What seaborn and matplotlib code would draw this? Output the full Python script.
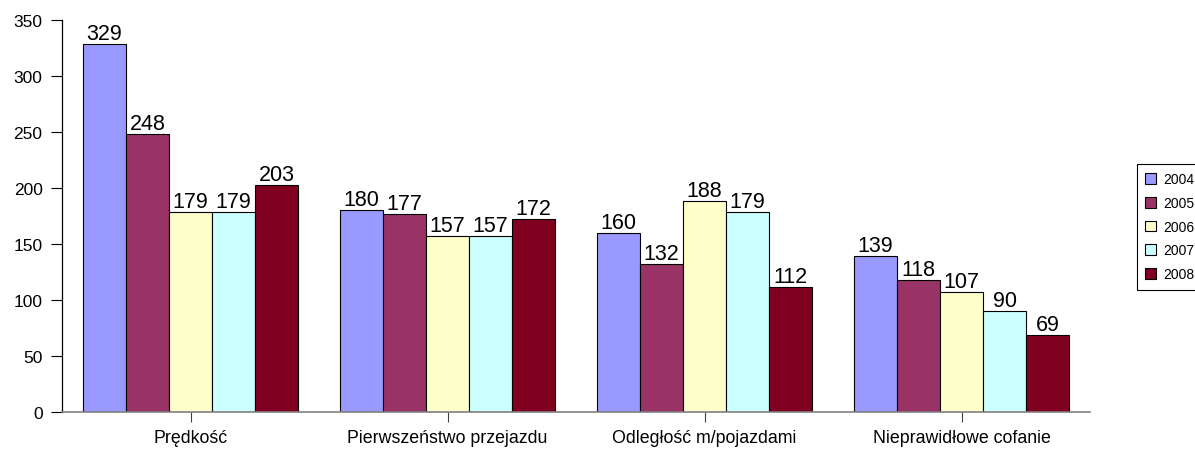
import numpy as np
import pandas as pd
import seaborn as sns
from matplotlib import pyplot as plt

# data
categories = ['Prędkość', 'Pierwszeństwo przejazdu', 'Odległość m/pojazdami', 'Nieprawidłowe cofanie']
years = ['2004', '2005', '2006', '2007', '2008']
v2004 = [329, 180, 160, 139]
v2005 = [248, 177, 132, 118]
v2006 = [179, 157, 188, 107]
v2007 = [179, 157, 179, 90]
v2008 = [203, 172, 112, 69]
colors = ['#9999FF', '#993366', '#FFFFCC', '#CCFFFF', '#800020']

series = [v2004, v2005, v2006, v2007, v2008]
rows = []
for year, vals in zip(years, series):
    for cat, v in zip(categories, vals):
        rows.append({'Kategoria': cat, 'Rok': year, 'Liczba': v})
df = pd.DataFrame(rows)

sns.set_style('white')
plt.rcParams['font.family'] = ['Liberation Sans', 'DejaVu Sans']
plt.rcParams['text.color'] = 'black'
plt.rcParams['xtick.color'] = 'black'
plt.rcParams['ytick.color'] = 'black'

fig = plt.figure(figsize=(11.95, 4.52), dpi=100)
ax = fig.add_axes([0.0519, 0.0863, 0.8603, 0.8672])

sns.barplot(data=df, x='Kategoria', y='Liczba', hue='Rok', order=categories,
            hue_order=years, palette=colors, width=0.837, gap=0,
            edgecolor='black', linewidth=0.8, saturation=1, ax=ax, legend=True)

for cont in ax.containers:
    ax.bar_label(cont, fontsize=15.5, padding=0, color='black')

ax.set_ylim(0, 350)
ax.set_xlim(-0.5, 3.5)
ax.set_yticks(range(0, 351, 50))
ax.set_xlabel('')
ax.set_ylabel('')
ax.tick_params(axis='y', length=8, width=0.8, color='black', labelcolor='black',
               labelsize=12.5, pad=6, direction='out', left=True)
ax.tick_params(axis='x', length=7, width=0.8, color='#404040', labelcolor='black',
               labelsize=12.8, pad=5, direction='out', bottom=True)
for s in ['top', 'right']:
    ax.spines[s].set_visible(False)
ax.spines['left'].set_color('black')
ax.spines['left'].set_linewidth(0.9)
ax.spines['bottom'].set_color('#808080')
ax.spines['bottom'].set_linewidth(1.2)

handles, labels = ax.get_legend_handles_labels()
ax.get_legend().remove()
leg = fig.legend(handles, labels, loc='upper left', bbox_to_anchor=(1137 / 1195, 1 - 165 / 452),
                 fontsize=10, frameon=True, fancybox=False, edgecolor='black', framealpha=1,
                 handlelength=0.8, handleheight=0.8, labelspacing=0.7, handletextpad=0.5,
                 borderpad=0.6, borderaxespad=0)
leg.get_frame().set_linewidth(0.8)

fig.savefig('out.png', dpi=100)
